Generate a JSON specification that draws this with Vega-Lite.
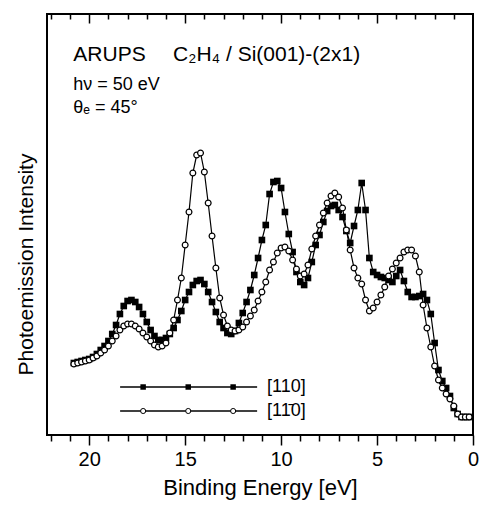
{
  "$schema": "https://vega.github.io/schema/vega-lite/v6.json",
  "width": 426,
  "height": 421,
  "autosize": {"type": "none"},
  "padding": {"left": 47, "top": 14, "right": 6, "bottom": 77},
  "background": "white",
  "config": {"font": "Liberation Sans", "view": {"stroke": "black", "strokeWidth": 2}},
  "datasets": {
    "curves": [
      {"E":20.8,"F":72,"O":71},{"E":20.6,"F":73,"O":72},{"E":20.4,"F":74,"O":73},{"E":20.2,"F":75,"O":74},
      {"E":20.0,"F":76,"O":75},{"E":19.8,"F":78,"O":77},{"E":19.6,"F":81,"O":79},{"E":19.4,"F":85,"O":82},
      {"E":19.2,"F":89,"O":85},{"E":19.0,"F":94,"O":89},{"E":18.8,"F":101,"O":94},{"E":18.6,"F":110,"O":99},
      {"E":18.4,"F":121,"O":105},{"E":18.2,"F":129,"O":109},{"E":18.0,"F":134,"O":111},{"E":17.8,"F":135,"O":111},
      {"E":17.6,"F":133,"O":109},{"E":17.4,"F":128,"O":106},{"E":17.2,"F":121,"O":102},{"E":17.0,"F":113,"O":98},
      {"E":16.8,"F":105,"O":94},{"E":16.6,"F":99,"O":90},{"E":16.4,"F":95,"O":88},{"E":16.2,"F":95,"O":89},
      {"E":16.0,"F":97,"O":92},{"E":15.8,"F":101,"O":102},{"E":15.6,"F":107,"O":115},{"E":15.4,"F":115,"O":135},
      {"E":15.2,"F":124,"O":157},{"E":15.0,"F":135,"O":190},{"E":14.8,"F":143,"O":223},{"E":14.6,"F":150,"O":262},
      {"E":14.4,"F":154,"O":280},{"E":14.2,"F":155,"O":282},{"E":14.0,"F":151,"O":263},{"E":13.8,"F":143,"O":232},
      {"E":13.6,"F":133,"O":199},{"E":13.4,"F":123,"O":167},{"E":13.2,"F":113,"O":137},{"E":13.0,"F":107,"O":120},
      {"E":12.8,"F":102,"O":109},{"E":12.6,"F":101,"O":105},{"E":12.4,"F":104,"O":104},{"E":12.2,"F":112,"O":105},
      {"E":12.0,"F":122,"O":108},{"E":11.8,"F":133,"O":113},{"E":11.6,"F":145,"O":119},{"E":11.4,"F":160,"O":125},
      {"E":11.2,"F":177,"O":134},{"E":11.0,"F":195,"O":143},{"E":10.8,"F":210,"O":153},{"E":10.6,"F":241,"O":165},
      {"E":10.4,"F":253,"O":173},{"E":10.2,"F":254,"O":182},{"E":10.0,"F":247,"O":187},{"E":9.8,"F":223,"O":188},
      {"E":9.6,"F":201,"O":184},{"E":9.4,"F":183,"O":175},{"E":9.2,"F":163,"O":166},{"E":9.0,"F":153,"O":159},
      {"E":8.8,"F":150,"O":161},{"E":8.6,"F":157,"O":170},{"E":8.4,"F":173,"O":186},{"E":8.2,"F":190,"O":199},
      {"E":8.0,"F":200,"O":210},{"E":7.8,"F":213,"O":222},{"E":7.6,"F":224,"O":232},{"E":7.4,"F":229,"O":239},
      {"E":7.2,"F":230,"O":242},{"E":7.0,"F":225,"O":238},{"E":6.8,"F":218,"O":227},{"E":6.6,"F":204,"O":205},
      {"E":6.4,"F":192,"O":185},{"E":6.2,"F":209,"O":167},{"E":6.0,"F":225,"O":157},{"E":5.8,"F":252,"O":151},
      {"E":5.6,"F":225,"O":135},{"E":5.4,"F":177,"O":124},{"E":5.2,"F":163,"O":127},{"E":5.0,"F":160,"O":133},
      {"E":4.8,"F":158,"O":140},{"E":4.6,"F":157,"O":148},{"E":4.4,"F":155,"O":159},{"E":4.2,"F":153,"O":166},
      {"E":4.0,"F":159,"O":172},{"E":3.8,"F":165,"O":177},{"E":3.6,"F":154,"O":183},{"E":3.4,"F":143,"O":185},
      {"E":3.2,"F":138,"O":185},{"E":3.0,"F":138,"O":179},{"E":2.8,"F":139,"O":163},{"E":2.6,"F":141,"O":130},
      {"E":2.4,"F":135,"O":107},{"E":2.2,"F":121,"O":88},{"E":2.0,"F":92,"O":69},{"E":1.8,"F":65,"O":55},
      {"E":1.6,"F":54,"O":47},{"E":1.4,"F":47,"O":41},{"E":1.2,"F":39,"O":36},{"E":1.0,"F":27,"O":29},
      {"E":0.8,"F":21,"O":21},{"E":0.6,"F":18,"O":18},{"E":0.4,"F":18,"O":18},{"E":0.2,"F":18,"O":18}
    ],
    "legendLine": [
      {"E":18.39,"I":48,"s":"F"},{"E":11.25,"I":48,"s":"F"},
      {"E":18.39,"I":24,"s":"O"},{"E":11.25,"I":24,"s":"O"}
    ],
    "legendPts": [
      {"E":17.19,"I":48,"s":"F"},{"E":14.84,"I":48,"s":"F"},{"E":12.5,"I":48,"s":"F"},
      {"E":17.19,"I":24,"s":"O"},{"E":14.84,"I":24,"s":"O"},{"E":12.5,"I":24,"s":"O"}
    ],
    "legendText": [
      {"E":10.73,"I":48,"label":"[110]"},
      {"E":10.73,"I":24,"label":"[11̄0]"}
    ],
    "titles": [
      {"E":20.83,"I":374,"label":"ARUPS"},
      {"E":15.63,"I":374,"label":"C₂H₄ / Si(001)-(2x1)"}
    ],
    "subs": [
      {"E":20.83,"I":345,"label":"hν = 50 eV"},
      {"E":20.83,"I":322,"label":"θₑ = 45°"}
    ]
  },
  "resolve": {"axis": {"x": "independent", "y": "independent"}},
  "layer": [
    {
      "data": {"name": "curves"},
      "mark": {"type": "line", "color": "black", "strokeWidth": 1.2},
      "encoding": {
        "x": {"field": "E", "type": "quantitative",
          "scale": {"domain": [0, 22.2], "reverse": true, "nice": false, "zero": false},
          "axis": {"orient": "bottom", "values": [0,1,2,3,4,5,6,7,8,9,10,11,12,13,14,15,16,17,18,19,20,21,22],
            "domain": false, "grid": false, "tickColor": "black", "tickWidth": 1.5,
            "tickSize": {"condition": {"test": "datum.value % 5 === 0", "value": 10}, "value": 6},
            "labelExpr": "datum.value % 5 === 0 ? datum.label : ''",
            "labelFontSize": 20, "labelColor": "black", "labelPadding": 4, "labelFlush": false, "labelOverlap": false,
            "title": "Binding Energy [eV]", "titleFontSize": 22, "titleFontWeight": "normal", "titleColor": "black", "titlePadding": 8}},
        "y": {"field": "F", "type": "quantitative",
          "scale": {"domain": [0, 421], "nice": false, "zero": false},
          "axis": {"title": "Photoemission Intensity", "ticks": false, "labels": false, "domain": false, "grid": false,
            "titleFontSize": 21, "titleFontWeight": "normal", "titleColor": "black",
            "titleAngle": -90, "titleX": -11, "titleY": 250, "titleAlign": "center", "titleBaseline": "bottom"}}
      }
    },
    {
      "data": {"name": "curves"},
      "mark": {"type": "point", "shape": "square", "filled": true, "color": "black", "size": 44, "opacity": 1},
      "encoding": {
        "x": {"field": "E", "type": "quantitative", "axis": null},
        "y": {"field": "F", "type": "quantitative", "axis": null}
      }
    },
    {
      "data": {"name": "curves"},
      "mark": {"type": "line", "color": "black", "strokeWidth": 1.2},
      "encoding": {
        "x": {"field": "E", "type": "quantitative",
          "axis": {"orient": "top", "values": [1,2,3,4,5,6,7,8,9,10,11,12,13,14,15,16,17,18,19,20,21,22],
            "domain": false, "grid": false, "labels": false, "title": null, "tickColor": "black", "tickWidth": 1.5,
            "tickSize": {"condition": {"test": "datum.value % 5 === 0", "value": -9}, "value": -5}}},
        "y": {"field": "O", "type": "quantitative", "axis": null}
      }
    },
    {
      "data": {"name": "curves"},
      "mark": {"type": "point", "shape": "circle", "filled": true, "fill": "white", "stroke": "black", "strokeWidth": 1.2, "size": 34, "opacity": 1},
      "encoding": {
        "x": {"field": "E", "type": "quantitative", "axis": null},
        "y": {"field": "O", "type": "quantitative", "axis": null}
      }
    },
    {
      "data": {"name": "legendLine"},
      "mark": {"type": "line", "color": "black", "strokeWidth": 1.5},
      "encoding": {
        "x": {"field": "E", "type": "quantitative", "axis": null},
        "y": {"field": "I", "type": "quantitative", "axis": null},
        "detail": {"field": "s"}
      }
    },
    {
      "data": {"name": "legendPts"},
      "transform": [{"filter": "datum.s === 'F'"}],
      "mark": {"type": "point", "shape": "square", "filled": true, "color": "black", "size": 30, "opacity": 1},
      "encoding": {
        "x": {"field": "E", "type": "quantitative", "axis": null},
        "y": {"field": "I", "type": "quantitative", "axis": null}
      }
    },
    {
      "data": {"name": "legendPts"},
      "transform": [{"filter": "datum.s === 'O'"}],
      "mark": {"type": "point", "shape": "circle", "filled": true, "fill": "white", "stroke": "black", "strokeWidth": 1, "size": 26, "opacity": 1},
      "encoding": {
        "x": {"field": "E", "type": "quantitative", "axis": null},
        "y": {"field": "I", "type": "quantitative", "axis": null}
      }
    },
    {
      "data": {"name": "legendText"},
      "mark": {"type": "text", "align": "left", "baseline": "middle", "fontSize": 18, "color": "black"},
      "encoding": {
        "x": {"field": "E", "type": "quantitative", "axis": null},
        "y": {"field": "I", "type": "quantitative", "axis": null},
        "text": {"field": "label"}
      }
    },
    {
      "data": {"name": "titles"},
      "mark": {"type": "text", "align": "left", "baseline": "alphabetic", "fontSize": 21, "color": "black"},
      "encoding": {
        "x": {"field": "E", "type": "quantitative", "axis": null},
        "y": {"field": "I", "type": "quantitative", "axis": null},
        "text": {"field": "label"}
      }
    },
    {
      "data": {"name": "subs"},
      "mark": {"type": "text", "align": "left", "baseline": "alphabetic", "fontSize": 18, "color": "black"},
      "encoding": {
        "x": {"field": "E", "type": "quantitative", "axis": null},
        "y": {"field": "I", "type": "quantitative", "axis": null},
        "text": {"field": "label"}
      }
    }
  ]
}
